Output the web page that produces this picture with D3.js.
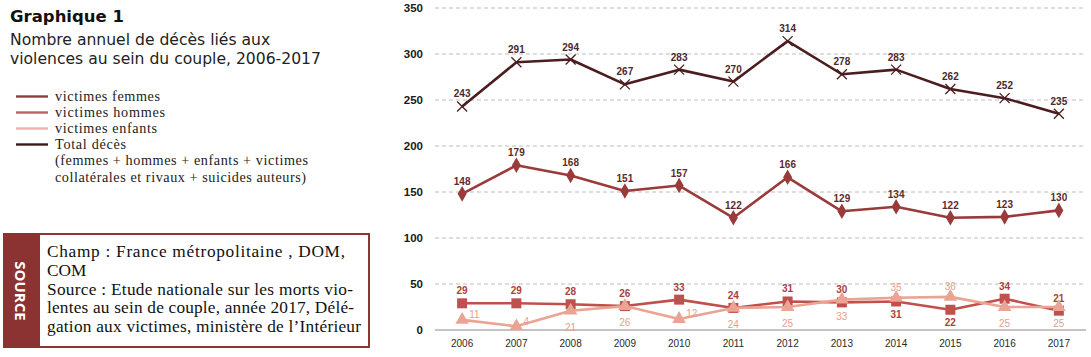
<!DOCTYPE html>
<html><head><meta charset="utf-8">
<script src="https://cdn.jsdelivr.net/npm/d3@7"></script>
<style>body{margin:0;background:#fff}svg{display:block}</style>
</head><body>
<svg id="c" width="1091" height="357"></svg>
<script>
const years = ["2006","2007","2008","2009","2010","2011","2012","2013","2014","2015","2016","2017"];
const femmes = [148,179,168,151,157,122,166,129,134,122,123,130];
const hommes = [29,29,28,26,33,24,31,30,31,22,34,21];
const enfants = [11,4,21,26,12,24,25,33,35,36,25,25];
const total = [243,291,294,267,283,270,314,278,283,262,252,235];
const yTicks = [0,50,100,150,200,250,300,350];
// label placement per point: a = above, b = below, r = above-right
const femmesPos = ["a","a","a","a","a","a","a","a","a","a","a","a"];
const hommesPos = ["a","a","a","a","a","a","a","a","b","b","a","a"];
const enfantsPos = ["r","r","b","b","r","b","b","b","a","a","b","b"];
const totalPos = ["a","a","a","a","a","a","a","a","a","a","a","a"];
const legendLabels = ["victimes femmes","victimes hommes","victimes enfants","Total décès"];
const legendNote = ["(femmes + hommes + enfants + victimes","collatérales et rivaux + suicides auteurs)"];

const svg = d3.select("#c");
const x = d3.scaleBand().domain(years).range([435,1086]);
const y = d3.scaleLinear().domain([0,350]).range([330,8]);
const cx = d => x(d) + x.bandwidth()/2;

// grid
svg.append("g").selectAll("line").data(yTicks.filter(t=>t>0)).join("line")
  .attr("x1",435).attr("x2",1086).attr("y1",d=>y(d)).attr("y2",d=>y(d))
  .attr("stroke","#bdbdbd").attr("stroke-width",1).attr("stroke-dasharray","4,3");
svg.append("line").attr("x1",435).attr("x2",1086).attr("y1",y(0)).attr("y2",y(0))
  .attr("stroke","#8a8a8a").attr("stroke-width",1.2);

// y axis labels
const yAxis = d3.axisLeft(y).tickValues(yTicks).tickSize(0).tickPadding(0);
const yg = svg.append("g").attr("transform","translate(423,0)").call(yAxis);
yg.select(".domain").remove();
yg.selectAll("text").attr("font-family","Liberation Sans, Arial, sans-serif")
  .attr("font-size",11.5).attr("font-weight","bold").attr("fill","#1a1a1a");

// x axis labels
const xAxis = d3.axisBottom(x).tickSize(0).tickPadding(0);
const xg = svg.append("g").attr("transform","translate(0,340)").call(xAxis);
xg.select(".domain").remove();
xg.selectAll("text").attr("font-family","Liberation Sans, Arial, sans-serif")
  .attr("font-size",10).attr("fill","#2a2a2a");

const series = [
  {vals:hommes, pos:hommesPos, color:"#c0504d", lab:"#a9423f", mark:"square"},
  {vals:enfants, pos:enfantsPos, color:"#eba393", lab:"#e5a08e", mark:"triangle"},
  {vals:femmes, pos:femmesPos, color:"#9b3a3a", lab:"#5e2a2a", mark:"diamond"},
  {vals:total, pos:totalPos, color:"#4b1d1f", lab:"#4a2a2b", mark:"cross"}
];
const line = d3.line().x((d,i)=>cx(years[i])).y(d=>y(d));
const symMap = {square:d3.symbolSquare, triangle:d3.symbolTriangle, diamond:d3.symbolDiamond};
const symSize = {square:100, triangle:80, diamond:70};

series.forEach(s=>{
  const g = svg.append("g");
  g.append("path").datum(s.vals).attr("d",line).attr("fill","none")
    .attr("stroke",s.color).attr("stroke-width",2.6).attr("stroke-linejoin","round");
  if (s.mark==="cross") {
    g.selectAll("path.m").data(s.vals).join("path").attr("class","m")
      .attr("transform",(d,i)=>`translate(${cx(years[i])},${y(d)})`)
      .attr("d","M-5,-5L5,5M-5,5L5,-5").attr("stroke",s.color).attr("stroke-width",1.3).attr("fill","none");
  } else {
    g.selectAll("path.m").data(s.vals).join("path").attr("class","m")
      .attr("transform",(d,i)=>`translate(${cx(years[i])},${y(d)})`)
      .attr("d",d3.symbol().type(symMap[s.mark]).size(symSize[s.mark])).attr("fill",s.color);
  }
  g.selectAll("text").data(s.vals).join("text")
    .attr("x",(d,i)=>cx(years[i]) + (s.pos[i]==="r"?7:0))
    .attr("y",(d,i)=>{
      const p=s.pos[i];
      if(p==="a") return y(d) + (s.mark==="triangle"?-10:-12.5);
      if(p==="r") return y(d) - 5;
      return y(d) + (s.mark==="square"?13:16.5);
    })
    .attr("dominant-baseline","central").attr("text-anchor",(d,i)=>s.pos[i]==="r"?"start":"middle")
    .attr("font-family","Liberation Sans, Arial, sans-serif").attr("font-size",10)
    .attr("font-weight",s.mark==="triangle"?"normal":"bold")
    .attr("fill",s.lab).text(d=>d);
});

// left side title
svg.append("text").attr("x",10).attr("y",22).attr("font-family","DejaVu Sans, sans-serif")
  .attr("font-weight","bold").attr("font-size",16.5).attr("fill","#111").text("Graphique 1");
svg.append("text").attr("x",10).attr("y",45).attr("font-family","DejaVu Sans, sans-serif")
  .attr("font-size",15.6).attr("fill","#222").text("Nombre annuel de décès liés aux");
svg.append("text").attr("x",10).attr("y",64).attr("font-family","DejaVu Sans, sans-serif")
  .attr("font-size",15.6).attr("fill","#222").text("violences au sein du couple, 2006-2017");

// legend
const legColors = ["#8f3e3e","#c05f5f","#f0b0b0","#3e1a1a"];
const legWidths = [105, 110, 102, 71];
const lg = svg.append("g");
legendLabels.forEach((t,i)=>{
  const yy = 96.5 + i*16;
  lg.append("line").attr("x1",16).attr("x2",48).attr("y1",yy).attr("y2",yy)
    .attr("stroke",legColors[i]).attr("stroke-width",2.4);
  lg.append("text").attr("x",55).attr("y",yy+4.3).attr("font-family","Liberation Serif, serif")
    .attr("font-size",14.2).attr("fill","#222")
    .attr("textLength",legWidths[i]).attr("lengthAdjust","spacing").text(t);
});
const noteWidths = [253, 251];
legendNote.forEach((t,i)=>{
  lg.append("text").attr("x",55).attr("y",165.2+i*16.5).attr("font-family","Liberation Serif, serif")
    .attr("font-size",14.2).attr("fill","#222")
    .attr("textLength",noteWidths[i]).attr("lengthAdjust","spacing").text(t);
});

// source box
const sb = svg.append("g");
sb.append("rect").attr("x",4).attr("y",234).attr("width",365).attr("height",113)
  .attr("fill","#fff").attr("stroke","#8b3535").attr("stroke-width",2);
sb.append("rect").attr("x",3).attr("y",233).attr("width",37).attr("height",115).attr("fill","#8b3232");
sb.append("text").attr("transform","translate(21,291) rotate(90)").attr("text-anchor","middle")
  .attr("dominant-baseline","central").attr("font-family","Open Sans, sans-serif")
  .attr("font-weight","bold").attr("font-size",15).attr("fill","#fff").text("SOURCE");
const srcLines = ["Champ : France métropolitaine , DOM,","COM","Source : Etude nationale sur les morts vio-","lentes au sein de couple, année 2017, Délé-","gation aux victimes, ministère de l’Intérieur"];
const srcWidths = [298, 0, 306, 307, 314];
srcLines.forEach((t,i)=>{
  const tx = sb.append("text").attr("x",47).attr("y",257+i*18.8).attr("font-family","Liberation Serif, serif")
    .attr("font-size",17.3).attr("fill","#111").text(t);
  if (srcWidths[i]) tx.attr("textLength",srcWidths[i]).attr("lengthAdjust","spacing");
});
</script>
</body></html>
